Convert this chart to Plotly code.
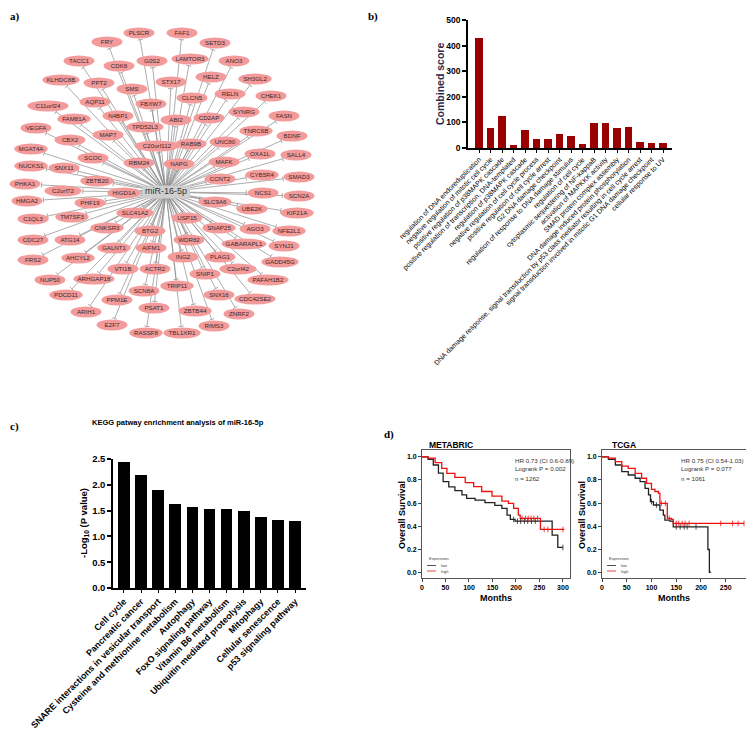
import numpy as np
import plotly.graph_objects as go

# page is 754x739; the html body has an 8px margin, so the figure itself is 738x723
OFF = 8
W, H = 754 - 2 * OFF, 739 - 2 * OFF

# ---------------- Panel a: miR-16-5p target network ----------------
hub_name = "miR-16-5p"
hub_x, hub_y = 166, 192
node_names = ["FRY", "PLSCR", "FAF1", "SETD3", "TACC1", "CDK8", "G0S2", "LAMTOR3", "ANO3",
              "KLHDC8B", "PPT2", "STX17", "HELZ", "SH3GL2", "SMS", "CLCN5", "RELN", "CHEK1",
              "C11orf24", "AQP11", "FBXW7", "SYNRG", "FASN", "FAM81A", "N4BP1", "ABI2", "CD2AP",
              "VEGFA", "TPD52L3", "TNRC6B", "MAP7", "BDNF", "CBX2", "C20orf112", "RAB9B", "UNC80",
              "MGAT4A", "OXA1L", "SALL4", "SCOC", "RBM24", "NAPG", "MAFK", "NUCKS1", "SNX11",
              "CYB5R4", "SMAD3", "ZBTB20", "CCNT2", "PHKA1", "C2orf72", "HIGD1A", "NCS1", "SCN2A",
              "HMGA2", "PHF19", "SLC9A6", "UBE2K", "KIF21A", "C1QL3", "TM7SF3", "SLC41A2", "USP15",
              "AGO3", "NFE2L1", "CNKSR3", "SNAP25", "CDC27", "ATG14", "BTG2", "GABARAPL1", "SYNJ1",
              "GALNT1", "AIFM1", "WDR82", "GADD45G", "FRS2", "AHCYL2", "ING2", "PLAG1", "VTI1B",
              "ACTR2", "C2orf42", "PAFAH1B2", "NUP50", "ARHGAP18", "SNIP1", "CDC42SE2", "PDCD11",
              "SCN8A", "TRIP11", "SNX16", "PPM1E", "PSAT1", "ZBTB44", "ZNRF2", "ARIH1", "E2F7",
              "RIMS3", "RASSF8", "TBL1XR1"]
node_x = [107, 139, 182, 215, 79, 119, 152, 190, 234,
          61, 99, 171, 211, 255, 132, 192, 230, 271,
          48, 95, 151, 244, 284, 74, 118, 176, 209,
          36, 145, 256, 108, 292, 70, 157, 191, 225,
          31, 260, 296, 93, 139, 179, 224, 31, 64,
          262, 299, 97, 220, 25, 63, 124, 263, 299,
          27, 90, 215, 252, 297, 33, 72, 135, 187,
          255, 289, 107, 219, 33, 70, 150, 244, 284,
          114, 151, 189, 280, 33, 78, 183, 220, 123,
          155, 238, 268, 50, 94, 205, 255, 66,
          144, 177, 219, 117, 154, 195, 239, 86, 112,
          214, 146, 182]
node_y = [42, 33, 33, 43, 61, 66, 61, 59, 61,
          80, 83, 82, 77, 79, 89, 98, 94, 96,
          106, 102, 104, 112, 116, 119, 116, 120, 118,
          128, 127, 131, 135, 136, 140, 146, 144, 142,
          149, 154, 155, 158, 163, 164, 162, 166, 168,
          175, 177, 181, 179, 184, 191, 193, 193, 196,
          201, 203, 202, 209, 213, 219, 217, 213, 218,
          229, 231, 228, 228, 240, 240, 231, 244, 246,
          248, 248, 240, 262, 260, 258, 257, 257, 269,
          269, 269, 280, 280, 279, 274, 299, 295,
          291, 286, 295, 300, 308, 311, 314, 312, 325,
          326, 333, 333]

# ---------------- Panel b: GO enrichment ----------------
go_terms = ["regulation of DNA endoreduplication",
            "negative regulation of mitotic cell cycle",
            "positive regulation of p38MAPK cascade",
            "positive regulation of transcription, DNA-templated",
            "regulation of p38MAPK cascade",
            "negative regulation of cell cycle process",
            "positive regulation of cell cycle arrest",
            "G2 DNA damage checkpoint",
            "regulation of response to DNA damage stimulus",
            "regulation of cell cycle",
            "cytoplasmic sequestering of NF-kappaB",
            "activation of MAPKKK activity",
            "SMAD protein complex assembly",
            "DNA damage induced protein phosphorylation",
            "DNA damage response, signal transduction by p53 class mediator resulting in cell cycle arrest",
            "signal transduction involved in mitotic G1 DNA damage checkpoint",
            "cellular response to UV"]
go_scores = [430, 77, 125, 12, 71, 36, 35, 55, 45, 14, 96, 96, 80, 82, 22, 21, 18]

# ---------------- Panel c: KEGG enrichment ----------------
kegg_terms = ["Cell cycle", "Pancreatic cancer", "SNARE interactions in vesicular transport",
              "Cysteine and methionine metabolism", "Autophagy", "FoxO signaling pathway",
              "Vitamin B6 metabolism", "Ubiquitin mediated proteolysis", "Mitophagy",
              "Cellular senescence", "p53 signaling pathway"]
kegg_logp = [2.45, 2.19, 1.90, 1.63, 1.57, 1.54, 1.53, 1.49, 1.37, 1.32, 1.29]

# ---------------- Panel d: Kaplan-Meier ----------------
meta_low_t = [0, 13, 24, 35, 45, 57, 70, 85, 95, 113, 134, 155, 170, 181, 188, 198, 277, 289, 300]
meta_low_s = [1.0, 0.98, 0.93, 0.86, 0.785, 0.74, 0.707, 0.67, 0.64, 0.626, 0.603, 0.58, 0.554, 0.496, 0.458, 0.443, 0.322, 0.215, 0.215]
meta_high_t = [0, 13, 28, 42, 53, 70, 92, 110, 127, 149, 170, 184, 195, 205, 209, 252, 303]
meta_high_s = [1.0, 0.99, 0.95, 0.90, 0.858, 0.823, 0.777, 0.742, 0.70, 0.66, 0.617, 0.597, 0.554, 0.496, 0.467, 0.371, 0.371]
meta_low_cens = [195, 203, 210, 218, 225, 233, 241, 300]
meta_high_cens = [213, 220, 226, 232, 238, 246, 260, 268, 300]

tcga_low_t = [0, 13, 27, 40, 53, 67, 77, 87, 94, 98, 104, 117, 124, 127, 137, 144, 214, 217, 220]
tcga_low_s = [1.0, 0.98, 0.93, 0.872, 0.843, 0.815, 0.785, 0.728, 0.67, 0.612, 0.583, 0.539, 0.496, 0.452, 0.443, 0.394, 0.197, 0.0, 0.0]
tcga_high_t = [0, 13, 27, 40, 53, 67, 80, 90, 100, 107, 114, 117, 132, 140, 144, 287]
tcga_high_s = [1.0, 0.99, 0.96, 0.92, 0.90, 0.858, 0.815, 0.771, 0.719, 0.70, 0.684, 0.597, 0.467, 0.458, 0.423, 0.423]
tcga_low_cens = [100, 110, 150, 158, 166, 172, 190]
tcga_high_cens = [120, 128, 136, 150, 155, 162, 168, 176, 240, 264, 275, 287]

# ================= helpers =================
FONT = "Liberation Sans, Arial, sans-serif"
SERIF = "Liberation Serif, Times New Roman, serif"


def px(x):  # page pixel -> paper fraction
    return min(1.0, max(0.0, (x - OFF) / W))


def py(y):
    return min(1.0, max(0.0, 1 - (y - OFF) / H))


fig = go.Figure()
shapes = []
annotations = []

# ---- network geometry (derived from node arrays) ----
nx_ = np.array(node_x, float)
ny_ = np.array(node_y, float)
ew = np.array([max(31.0, 3.9 * len(n) + 10) for n in node_names])
eh = 11.0
path = []
for xi, yi, wi in zip(nx_, ny_, ew):
    dx, dy = xi - hub_x, yi - hub_y
    L = np.hypot(dx, dy)
    ux, uy = dx / L, dy / L
    a, b = wi / 2, eh / 2
    t = 1.0 / np.sqrt((ux / a) ** 2 + (uy / b) ** 2)
    ex, ey = xi - ux * (t + 1.2), yi - uy * (t + 1.2)
    path.append(f"M{hub_x},{hub_y}L{ex:.2f},{ey:.2f}")
    qx, qy = -uy * 2.6, ux * 2.6
    path.append(f"M{ex - qx:.2f},{ey - qy:.2f}L{ex + qx:.2f},{ey + qy:.2f}")
shapes.append(dict(type="path", path="".join(path), xref="x", yref="y", layer="below",
                   line=dict(color="#8a8a8a", width=0.7)))
for xi, yi, wi in zip(nx_, ny_, ew):
    shapes.append(dict(type="circle", xref="x", yref="y", layer="below",
                       x0=xi - wi / 2, x1=xi + wi / 2, y0=yi - eh / 2, y1=yi + eh / 2,
                       fillcolor="#f39a9a", line=dict(width=0)))
shapes.append(dict(type="rect", xref="x", yref="y", layer="below",
                   x0=hub_x - 24, x1=hub_x + 24, y0=hub_y - 6.5, y1=hub_y + 6.5,
                   fillcolor="#cfcfcf", line=dict(width=0)))
fig.add_trace(go.Scatter(x=node_x, y=node_y, text=node_names, mode="text",
                         textfont=dict(family=FONT, size=6.2, color="#3a2a2a"),
                         xaxis="x", yaxis="y", hoverinfo="text", showlegend=False))
fig.add_trace(go.Scatter(x=[hub_x], y=[hub_y], text=[hub_name], mode="text",
                         textfont=dict(family=FONT, size=9, color="#333"),
                         xaxis="x", yaxis="y", showlegend=False))

# ---- panel b ----
fig.add_trace(go.Bar(x=list(range(len(go_terms))), y=go_scores, marker=dict(color="#990000", line=dict(width=0)),
                     width=0.64, xaxis="x2", yaxis="y2", showlegend=False))
# ---- panel c ----
fig.add_trace(go.Bar(x=list(range(len(kegg_terms))), y=kegg_logp, marker=dict(color="black", line=dict(width=0)),
                     width=0.68, xaxis="x3", yaxis="y3", showlegend=False))


# ---- panel d ----
def step_val(tt, ss, c):
    idx = np.searchsorted(np.array(tt), np.array(c), side="right") - 1
    return list(np.array(ss)[idx])


for (lt, ls, lc, ht, hs, hc, xa, ya) in [
        (meta_low_t, meta_low_s, meta_low_cens, meta_high_t, meta_high_s, meta_high_cens, "x4", "y4"),
        (tcga_low_t, tcga_low_s, tcga_low_cens, tcga_high_t, tcga_high_s, tcga_high_cens, "x5", "y5")]:
    fig.add_trace(go.Scatter(x=lt, y=ls, mode="lines", line=dict(color="#222", width=1.3, shape="hv"),
                             xaxis=xa, yaxis=ya, showlegend=False))
    fig.add_trace(go.Scatter(x=ht, y=hs, mode="lines", line=dict(color="#f01010", width=1.3, shape="hv"),
                             xaxis=xa, yaxis=ya, showlegend=False))
    fig.add_trace(go.Scatter(x=lc, y=step_val(lt, ls, lc), mode="markers",
                             marker=dict(symbol="line-ns", size=4, line=dict(color="#222", width=0.8)),
                             xaxis=xa, yaxis=ya, showlegend=False))
    fig.add_trace(go.Scatter(x=hc, y=step_val(ht, hs, hc), mode="markers",
                             marker=dict(symbol="line-ns", size=4, line=dict(color="#f01010", width=0.8)),
                             xaxis=xa, yaxis=ya, showlegend=False))

# ================= layout =================
bold_tick = lambda s: dict(family=FONT, size=s, color="black", weight="bold")

layout = dict(
    width=W, height=H, margin=dict(l=0, r=0, t=0, b=0, pad=0, autoexpand=False),
    autosize=False,
    paper_bgcolor="white", plot_bgcolor="rgba(0,0,0,0)",
    font=dict(family=FONT),
    bargap=0,
    xaxis=dict(domain=[0, px(388)], range=[OFF, 388], visible=False, anchor="y", automargin=False),
    yaxis=dict(domain=[py(378), 1], range=[378, OFF], visible=False, anchor="x", automargin=False),
    xaxis2=dict(domain=[px(468), px(672)], range=[-0.96, 16.78], anchor="y2", automargin=False,
                tickvals=list(range(len(go_terms))), ticktext=go_terms, tickangle=-45,
                tickfont=dict(family=FONT, size=7, color="black"),
                ticks="outside", ticklen=3, tickwidth=1.2, tickcolor="black",
                showline=True, linecolor="black", linewidth=1.5, showgrid=False, zeroline=False),
    yaxis2=dict(domain=[py(148), py(20)], range=[0, 500], dtick=100, anchor="x2", automargin=False,
                tickfont=bold_tick(8.5), ticks="outside", ticklen=4, tickwidth=1.5, tickcolor="black",
                showline=True, linecolor="black", linewidth=1.5, showgrid=False, zeroline=False),
    xaxis3=dict(domain=[px(113), px(306)], range=[-0.64, 10.64], anchor="y3", automargin=False,
                tickvals=list(range(len(kegg_terms))), ticktext=kegg_terms, tickangle=-45,
                tickfont=bold_tick(9),
                ticks="outside", ticklen=3, tickwidth=1.2, tickcolor="black",
                showline=True, linecolor="black", linewidth=1.5, showgrid=False, zeroline=False),
    yaxis3=dict(domain=[py(588), py(459)], range=[0, 2.5], dtick=0.5, tickformat=".1f", anchor="x3",
                automargin=False,
                tickfont=bold_tick(9.5), ticks="outside", ticklen=4, tickwidth=1.5, tickcolor="black",
                showline=True, linecolor="black", linewidth=1.5, showgrid=False, zeroline=False),
)
for xa, ya, x0, x1, xmax in [("xaxis4", "yaxis4", 422, 570, 315), ("xaxis5", "yaxis5", 602, 746, 291)]:
    layout[xa] = dict(domain=[px(x0), px(x1)], range=[0, xmax], dtick=50, anchor=ya.replace("axis", ""),
                      automargin=False,
                      tickfont=bold_tick(7), ticks="outside", ticklen=3, tickwidth=1, tickcolor="#444",
                      showline=True, mirror=True, linecolor="#555", linewidth=0.9,
                      showgrid=False, zeroline=False)
    layout[ya] = dict(domain=[py(578), py(450)], range=[-0.05, 1.06], dtick=0.2, tickformat=".1f",
                      anchor=xa.replace("axis", ""), automargin=False,
                      tickfont=bold_tick(7), ticks="outside", ticklen=3, tickwidth=1, tickcolor="#444",
                      showline=True, mirror=True, linecolor="#555", linewidth=0.9,
                      showgrid=False, zeroline=False)


def ann(text, x, y, size, bold=False, color="black", angle=0, xanchor="center", family=FONT,
        yanchor="middle"):
    annotations.append(dict(text=text, x=px(x), y=py(y), xref="paper", yref="paper", showarrow=False,
                            xanchor=xanchor, yanchor=yanchor, textangle=angle,
                            font=dict(family=family, size=size, color=color,
                                      weight="bold" if bold else "normal")))


# panel letters
ann("a)", 8, 8, 11, True, xanchor="left", family=SERIF, yanchor="top")
ann("b)", 366, 8, 11, True, xanchor="left", family=SERIF, yanchor="top")
ann("c)", 8, 426, 11, True, xanchor="left", family=SERIF)
ann("d)", 382, 434, 11, True, xanchor="left", family=SERIF)

# axis titles
ann("Combined score", 440, 84, 10.5, True, color="#2c2c4c", angle=-90)
ann("KEGG patway enrichment analysis of miR-16-5p", 178, 423, 7.5, True)
ann("-Log<sub>10</sub> (P value)", 84, 523, 9.5, True, angle=-90)
ann("METABRIC", 427, 445, 8.5, True, xanchor="left")
ann("TCGA", 610, 445, 8.5, True, xanchor="left")
ann("Overall Survival", 402, 515, 9, True, angle=-90)
ann("Overall Survival", 582, 515, 9, True, angle=-90)
ann("Months", 496, 598, 9, True)
ann("Months", 674, 598, 9, True)

# stats text
for x0, lines in [(513, ["HR 0.73 (CI 0.6-0.89)", "Logrank P = 0.002", "n = 1262"]),
                  (679, ["HR 0.75 (CI 0.54-1.03)", "Logrank P = 0.077", "n = 1061"])]:
    for i, s in enumerate(lines):
        ann(s, x0, 460 + 9 * i, 6.2, color="#333", xanchor="left")

# KM legends
for lx in [427, 607]:
    ann("Expression", lx, 558, 4, color="#444", xanchor="left")
    ann("low", lx + 12, 565.5, 4, color="#444", xanchor="left")
    ann("high", lx + 12, 571, 4, color="#444", xanchor="left")
    shapes.append(dict(type="line", xref="paper", yref="paper", x0=px(lx), x1=px(lx + 9),
                       y0=py(565.5), y1=py(565.5), line=dict(color="#222", width=0.8)))
    shapes.append(dict(type="line", xref="paper", yref="paper", x0=px(lx), x1=px(lx + 9),
                       y0=py(571), y1=py(571), line=dict(color="#f01010", width=0.8)))

layout["shapes"] = shapes
layout["annotations"] = annotations
fig.update_layout(**layout)
fig.write_html("out.html")
